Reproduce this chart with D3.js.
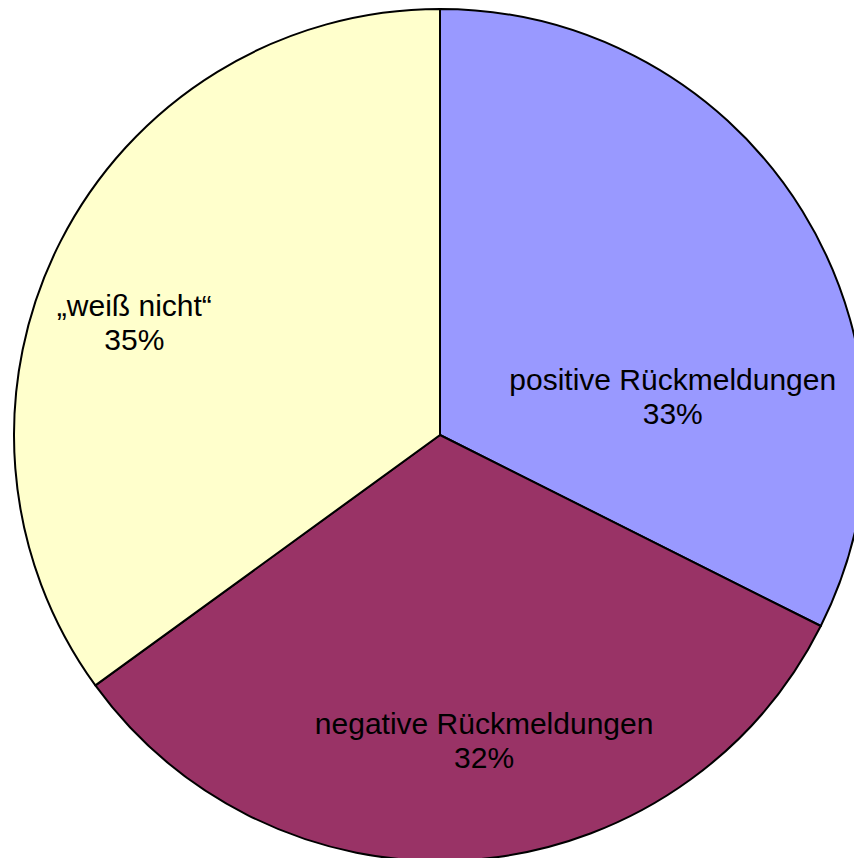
<!DOCTYPE html>
<html>
<head>
<meta charset="utf-8">
<script src="https://d3js.org/d3.v7.min.js"></script>
<style>
  body { margin: 0; background: #fff; }
  text { font-family: "Liberation Sans", Arial, sans-serif; font-size: 30px; fill: #000; }
</style>
</head>
<body>
<div id="chart"></div>
<script>
var categories = ["positive Rückmeldungen", "negative Rückmeldungen", "\u201Eweiß nicht\u201C"]
var values = [32.4, 32.6, 35.0]
var percentLabels = ["33%", "32%", "35%"]
var colors = ["#9999FF", "#993366", "#FFFFCC"]

// where Excel put each label (angle in degrees from 12 o'clock, distance from centre)
var labelAngle = [79.1, 171.6, 291.25]
var labelDist = [237, 302, 328]

var width = 854, height = 858
var cx = 440, cy = 435, radius = 426

var svg = d3.select("#chart").append("svg")
    .attr("width", width)
    .attr("height", height)
  .append("g")
    .attr("transform", "translate(" + cx + "," + cy + ")")

var pie = d3.pie().sort(null).value(function(d) { return d })
var arcs = pie(values)

var arc = d3.arc().innerRadius(0).outerRadius(radius)

svg.selectAll("path.slice")
  .data(arcs)
  .enter()
  .append("path")
    .attr("class", "slice")
    .attr("d", arc)
    .attr("fill", function(d, i) { return colors[i] })
    .attr("stroke", "#000")
    .attr("stroke-width", 2)
    .attr("stroke-linejoin", "round")

var labels = svg.selectAll("text.lbl")
  .data(arcs)
  .enter()
  .append("text")
    .attr("class", "lbl")
    .attr("text-anchor", "middle")
    .attr("transform", function(d, i) {
      var a = labelAngle[i] * Math.PI / 180
      return "translate(" + (labelDist[i] * Math.sin(a)) + "," + (-labelDist[i] * Math.cos(a)) + ")"
    })

labels.append("tspan")
  .attr("x", 0)
  .attr("y", 0)
  .text(function(d, i) { return categories[i] })

labels.append("tspan")
  .attr("x", 0)
  .attr("y", 34)
  .text(function(d, i) { return percentLabels[i] })
</script>
</body>
</html>
